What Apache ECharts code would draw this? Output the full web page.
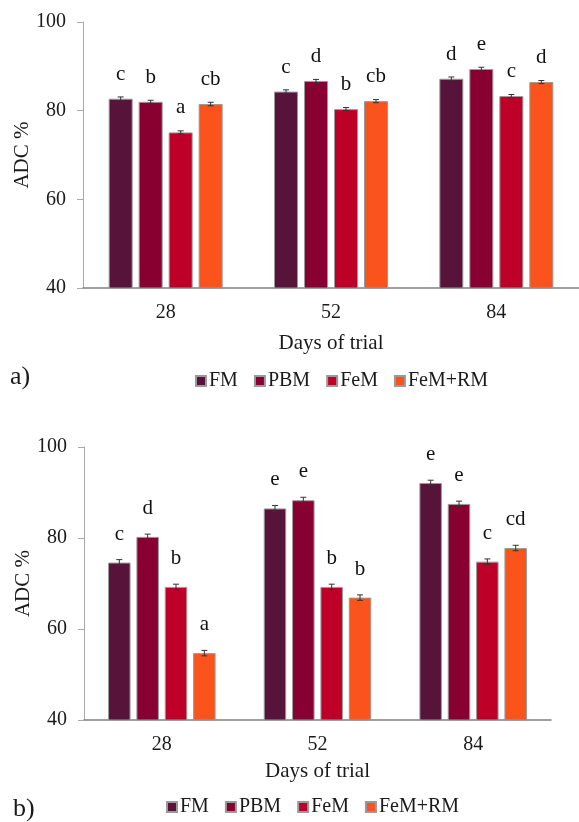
<!DOCTYPE html>
<html>
<head>
<meta charset="utf-8">
<script src="https://cdn.jsdelivr.net/npm/echarts@6/dist/echarts.min.js"></script>
<style>
html,body{margin:0;padding:0;background:#fff;}
#c{width:579px;height:822px;}
</style>
</head>
<body>
<div id="c"></div>
<script>
// ---- data ----
var days = ['28', '52', '84'];
var groups = ['FM', 'PBM', 'FeM', 'FeM+RM'];
var yTicks = [40, 60, 80, 100];

// panel a)
var aFM    = [82.7, 84.3, 87.2];
var aPBM   = [82.0, 86.7, 89.4];
var aFeM   = [75.1, 80.35, 83.3];
var aFeMRM = [81.5, 82.15, 86.45];
var aErrFM = [0.4, 0.4, 0.4];
var aErrPBM = [0.35, 0.35, 0.4];
var aErrFeM = [0.35, 0.35, 0.35];
var aErrFeMRM = [0.4, 0.35, 0.35];
var aLetFM = ['c', 'c', 'd'];
var aLetPBM = ['b', 'd', 'e'];
var aLetFeM = ['a', 'b', 'c'];
var aLetFeMRM = ['cb', 'cb', 'd'];

// panel b)
var bFM    = [74.6, 86.5, 92.1];
var bPBM   = [80.25, 88.3, 87.5];
var bFeM   = [69.25, 69.25, 74.8];
var bFeMRM = [54.7, 66.9, 77.8];
var bErrFM = [0.65, 0.65, 0.6];
var bErrPBM = [0.6, 0.65, 0.6];
var bErrFeM = [0.6, 0.6, 0.6];
var bErrFeMRM = [0.6, 0.6, 0.6];
var bLetFM = ['c', 'e', 'e'];
var bLetPBM = ['d', 'e', 'e'];
var bLetFeM = ['b', 'b', 'c'];
var bLetFeMRM = ['a', 'b', 'cd'];

// ---- styling ----
var colors = ['#58133b', '#880030', '#be0028', '#fa541c'];
var FONT = 'Liberation Serif, Times New Roman, serif';

var panels = [
  {vals: [aFM, aPBM, aFeM, aFeMRM], errs: [aErrFM, aErrPBM, aErrFeM, aErrFeMRM],
   lets: [aLetFM, aLetPBM, aLetFeM, aLetFeMRM], barW: 24, gapRatio: 0.25, labDist: 14, nameGap: 45},
  {vals: [bFM, bPBM, bFeM, bFeMRM], errs: [bErrFM, bErrPBM, bErrFeM, bErrFeMRM],
   lets: [bLetFM, bLetPBM, bLetFeM, bLetFeMRM], barW: 22.5, gapRatio: 0.26, labDist: 18, nameGap: 41}
];

var grids = [
  {left: 83, top: 22, width: 499, height: 266},
  {left: 84, top: 447, width: 467, height: 273}
];

var xAxes = [], yAxes = [], series = [];
panels.forEach(function (p, pi) {
  xAxes.push({
    type: 'category', gridIndex: pi, data: days,
    axisLine: {lineStyle: {color: '#808080', width: 1.5}},
    axisTick: {show: false},
    axisLabel: {color: '#1a1a1a', fontFamily: FONT, fontSize: 20, margin: 15},
    name: 'Days of trial', nameLocation: 'middle', nameGap: p.nameGap,
    nameTextStyle: {color: '#1a1a1a', fontFamily: FONT, fontSize: 21}
  });
  yAxes.push({
    type: 'value', gridIndex: pi, min: yTicks[0], max: yTicks[yTicks.length - 1], interval: 20,
    axisLine: {show: true, lineStyle: {color: '#a8a8a8', width: 1}},
    axisTick: {show: true, length: 6, lineStyle: {color: '#a8a8a8'}},
    splitLine: {show: false},
    axisLabel: {color: '#1a1a1a', fontFamily: FONT, fontSize: 20, margin: 17},
    name: 'ADC %', nameLocation: 'middle', nameGap: 50, nameRotate: 90, nameMoveOverlap: false,
    nameTextStyle: {color: '#1a1a1a', fontFamily: FONT, fontSize: 21}
  });
  var w = p.barW, g = p.barW * p.gapRatio, total = 4 * w + 3 * g;
  groups.forEach(function (name, si) {
    var lets = p.lets[si];
    series.push({
      name: name, type: 'bar', xAxisIndex: pi, yAxisIndex: pi,
      data: p.vals[si], barWidth: w, barGap: (p.gapRatio * 100) + '%',
      itemStyle: {color: colors[si], borderColor: '#9a9a9a', borderWidth: 1},
      label: {show: true, position: 'top', distance: p.labDist,
        formatter: function (d) { return lets[d.dataIndex]; },
        color: '#111', fontFamily: FONT, fontSize: 21},
      emphasis: {disabled: true}, z: 2
    });
    var off = -total / 2 + w / 2 + si * (w + g);
    var ed = p.vals[si].map(function (v, i) { return [i, v, p.errs[si][i]]; });
    series.push({
      type: 'custom', xAxisIndex: pi, yAxisIndex: pi, data: ed, z: 5, silent: true,
      renderItem: function (params, api) {
        var c = api.coord([api.value(0), api.value(1)]);
        var hi = api.coord([api.value(0), api.value(1) + api.value(2)]);
        var lo = api.coord([api.value(0), api.value(1) - api.value(2)]);
        var x = c[0] + off, cap = 3;
        var st = {stroke: '#333', lineWidth: 1};
        return {type: 'group', children: [
          {type: 'line', shape: {x1: x, y1: hi[1], x2: x, y2: lo[1]}, style: st},
          {type: 'line', shape: {x1: x - cap, y1: hi[1], x2: x + cap, y2: hi[1]}, style: st},
          {type: 'line', shape: {x1: x - cap, y1: lo[1], x2: x + cap, y2: lo[1]}, style: st}
        ]};
      }
    });
  });
});

var legendCommon = {
  data: groups, orient: 'horizontal', itemWidth: 10, itemHeight: 10, itemGap: 16,
  icon: 'rect', selectedMode: false,
  textStyle: {color: '#1a1a1a', fontFamily: FONT, fontSize: 20, padding: [0, 0, 0, -2]}
};

var option = {
  animation: false,
  backgroundColor: '#fff',
  grid: grids,
  xAxis: xAxes,
  yAxis: yAxes,
  legend: [
    Object.assign({left: 190, top: 366}, legendCommon),
    Object.assign({left: 161, top: 792}, legendCommon)
  ],
  graphic: [
    {type: 'text', left: 10, top: 364, style: {text: 'a)', fontFamily: FONT, fontSize: 26, fill: '#1a1a1a'}},
    {type: 'text', left: 13, top: 796, style: {text: 'b)', fontFamily: FONT, fontSize: 26, fill: '#1a1a1a'}}
  ],
  series: series
};

var chart = echarts.init(document.getElementById('c'), null, {renderer: 'canvas'});
chart.setOption(option);
</script>
</body>
</html>
